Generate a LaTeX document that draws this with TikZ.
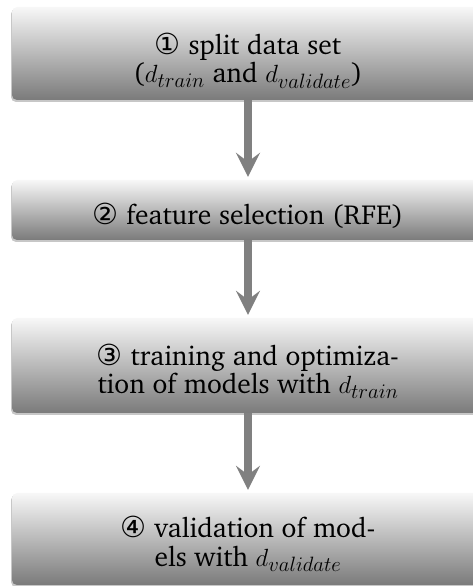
\documentclass[tikz,border=0pt]{standalone}
\usepackage{fontspec}
\newfontfamily\circfont{DejaVu Sans}
\usetikzlibrary{arrows.meta,shadows}
% Charter for the box texts, Computer Modern for the math
\newcommand\boxfont{\fontencoding{T1}\fontfamily{bch}\fontsize{27.5}{28.5}\selectfont}
\newcommand\stepno[1]{{\circfont\fontsize{29}{28.5}\selectfont #1}}
\tikzset{
  stagebox/.style={rounded corners=5pt, minimum width=472pt,
    top color=black!3, bottom color=black!52, draw=none,
    drop shadow={shadow xshift=-1pt, shadow yshift=-2pt, fill=black!22, opacity=1}},
  stagelabel/.style={align=center, font=\boxfont, inner sep=0pt},
  flow/.style={draw=black!50, line width=7.5pt,
    -{Stealth[length=24pt, width=24pt, inset=9pt]}, shorten >=3pt}
}
\begin{document}
\begin{tikzpicture}[x=1pt, y=1pt]
  \useasboundingbox (0,0) rectangle (473,586);
  % stages
  \node[stagebox, minimum height=93pt] (s1) at (248,532.5) {};
  \node[stagebox, minimum height=60pt] (s2) at (248,376) {};
  \node[stagebox, minimum height=95pt] (s3) at (248,220.5) {};
  \node[stagebox, minimum height=92pt] (s4) at (248,47) {};
  % texts
  \node[stagelabel] (t1) at ([yshift=-7pt]s1.center)
    {\stepno{①} split data set\\($d_{train}$ and $d_{validate}$)};
  \node[stagelabel] (t2) at ([yshift=-6pt]s2.center)
    {\stepno{②} feature selection (RFE)};
  \node[stagelabel] (t3) at ([yshift=-6pt]s3.center)
    {\stepno{③} training and optimiza-\\tion of models with $d_{train}$};
  \node[stagelabel] (t4) at ([yshift=-5pt]s4.center)
    {\stepno{④} validation of mod-\\els with $d_{validate}$};
  % flow between stages
  \draw[flow] (s1.south) -- (s2.north);
  \draw[flow] (s2.south) -- (s3.north);
  \draw[flow] (s3.south) -- (s4.north);
\end{tikzpicture}
\end{document}
